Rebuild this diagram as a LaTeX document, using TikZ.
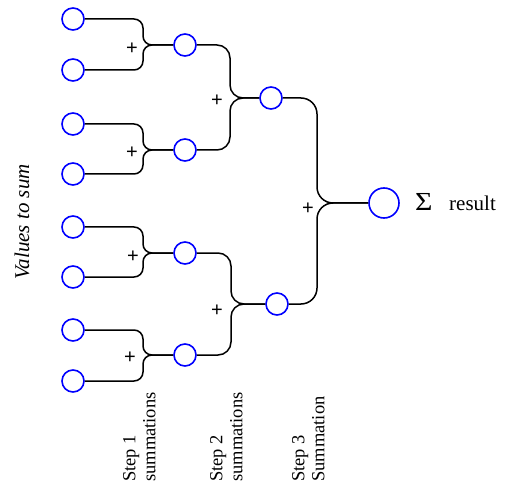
\documentclass[tikz,border=0pt]{standalone}
\usepackage{fontspec}
\setmainfont{Liberation Serif}
\newfontfamily\plusfont{Liberation Sans}
\begin{document}
\begin{tikzpicture}[x=1pt,y=-1pt]
        % Define styles for nodes and edges
        \tikzstyle{val}=[circle, draw=blue, line width=1.6pt, fill=white, minimum size=22pt, inner sep=0pt]
        \tikzstyle{res}=[val, minimum size=30pt]
        \tikzstyle{sumline}=[draw=black, line width=1.5pt]
        \tikzstyle{plus}=[font=\plusfont\fontsize{20}{20}\selectfont, inner sep=0pt]
        \tikzstyle{steplabel}=[rotate=90, align=left, anchor=north west, inner sep=0pt, font=\fontsize{18.5}{20}\selectfont]

        \useasboundingbox (0,0) rectangle (506,489);

        % Define vertices
        \node[val] (v1) at (73,19) {};
        \node[val] (v2) at (73,70) {};
        \node[val] (v3) at (73,124) {};
        \node[val] (v4) at (73,174) {};
        \node[val] (v5) at (73,227) {};
        \node[val] (v6) at (73,277) {};
        \node[val] (v7) at (73,330) {};
        \node[val] (v8) at (73,381) {};

        \node[val] (s1) at (185,45) {};
        \node[val] (s2) at (185,150) {};
        \node[val] (s3) at (185,253) {};
        \node[val] (s4) at (185,355) {};

        \node[val] (t1) at (271,98) {};
        \node[val] (t2) at (277,304) {};

        \node[res] (r) at (384,203) {};

        % Draw edges
        \draw[sumline, rounded corners=9pt] (v1.east) -| (143,45) -- (s1.west);
        \draw[sumline, rounded corners=9pt] (v2.east) -| (143,45) -- (s1.west);
        \draw[sumline, rounded corners=9pt] (v3.east) -| (143,150) -- (s2.west);
        \draw[sumline, rounded corners=9pt] (v4.east) -| (143,150) -- (s2.west);
        \draw[sumline, rounded corners=9pt] (v5.east) -| (143,253) -- (s3.west);
        \draw[sumline, rounded corners=9pt] (v6.east) -| (143,253) -- (s3.west);
        \draw[sumline, rounded corners=9pt] (v7.east) -| (143,355) -- (s4.west);
        \draw[sumline, rounded corners=9pt] (v8.east) -| (143,355) -- (s4.west);

        \draw[sumline, rounded corners=13pt] (s1.east) -| (230,98) -- (t1.west);
        \draw[sumline, rounded corners=13pt] (s2.east) -| (230,98) -- (t1.west);
        \draw[sumline, rounded corners=13pt] (s3.east) -| (231,304) -- (t2.west);
        \draw[sumline, rounded corners=13pt] (s4.east) -| (231,304) -- (t2.west);

        \draw[sumline, rounded corners=16pt] (t1.east) -| (317,203) -- (r.west);
        \draw[sumline, rounded corners=16pt] (t2.east) -| (317,203) -- (r.west);

        % Labels
        \node[plus] (p1) at (132,49) {+};
        \node[plus] (p2) at (132,153) {+};
        \node[plus] (p3) at (133,257) {+};
        \node[plus] (p4) at (130,358) {+};
        \node[plus] (p5) at (217,101) {+};
        \node[plus] (p6) at (217,311) {+};
        \node[plus] (p7) at (308,209) {+};

        \node[anchor=base west, inner sep=0pt, xscale=1.15, font=\fontsize{26}{26}\selectfont] (lsig) at (415,211) {Σ};
        \node[anchor=base west, inner sep=0pt, font=\fontsize{21}{21}\selectfont] (lres) at (449,211) {result};

        \node[rotate=90, inner sep=0pt, font=\fontsize{21}{21}\selectfont\itshape] (lval) at (22,222) {Values to sum};

        \node[steplabel] (l1) at (123,482) {Step 1\\summations};
        \node[steplabel] (l2) at (210,482) {Step 2\\summations};
        \node[steplabel] (l3) at (292,482) {Step 3\\Summation};

      \end{tikzpicture}
\end{document}
